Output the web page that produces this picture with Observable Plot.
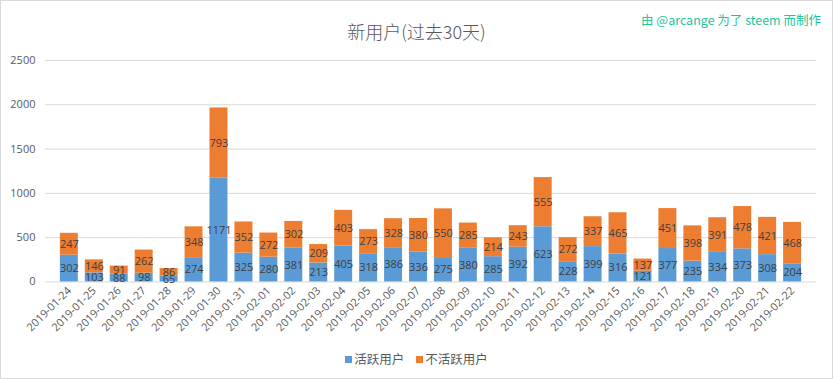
<!DOCTYPE html>
<html>
<head>
<meta charset="utf-8">
<script src="https://cdn.jsdelivr.net/npm/d3@7"></script>
<script src="https://cdn.jsdelivr.net/npm/@observablehq/plot@0.6"></script>
<style>
  html, body { margin: 0; padding: 0; background: #fff; }
  #wrap { position: relative; width: 833px; height: 379px; box-sizing: border-box; border: 1px solid #d9d9d9; overflow: hidden; font-family: "Open Sans", "Noto Sans CJK SC", sans-serif; }
  #title { position: absolute; left: 0; right: 0; top: 17px; text-align: center; font-family: "Noto Sans CJK SC", sans-serif; font-size: 18px; font-weight: 300; color: #595959; }
  #credit { position: absolute; left: 640px; top: 9px; font-family: "Noto Sans CJK SC", sans-serif; font-size: 12.5px; color: #22c59c; white-space: nowrap; }
  #chart { position: absolute; left: 0; top: 50px; }
  #legend { position: absolute; left: 0; right: 0; top: 348px; text-align: center; font-family: "Noto Sans CJK SC", sans-serif; font-size: 12.5px; color: #595959; }
  .sw { display: inline-block; width: 7px; height: 7px; margin-right: 2px; vertical-align: 1px; }
  .item { margin: 0 6px; }
</style>
</head>
<body>
<div id="wrap">
  <div id="title">新用户(过去30天)</div>
  <div id="credit">由 @arcange 为了 steem 而制作</div>
  <div id="chart"></div>
  <div id="legend"></div>
</div>
<script>
const dates = ["2019-01-24","2019-01-25","2019-01-26","2019-01-27","2019-01-28","2019-01-29","2019-01-30","2019-01-31",
  "2019-02-01","2019-02-02","2019-02-03","2019-02-04","2019-02-05","2019-02-06","2019-02-07","2019-02-08","2019-02-09",
  "2019-02-10","2019-02-11","2019-02-12","2019-02-13","2019-02-14","2019-02-15","2019-02-16","2019-02-17","2019-02-18",
  "2019-02-19","2019-02-20","2019-02-21","2019-02-22"];
const active = [302,103,88,98,65,274,1171,325,280,381,213,405,318,386,336,275,380,285,392,623,228,399,316,121,377,235,334,373,308,204];
const inactive = [247,146,91,262,86,348,793,352,272,302,209,403,273,328,380,550,285,214,243,555,272,337,465,137,451,398,391,478,421,468];
const seriesNames = ["活跃用户", "不活跃用户"];
const seriesColors = ["#5b9bd5", "#ed7d31"];
const yTicks = [0, 500, 1000, 1500, 2000, 2500];

const rows = [];
dates.forEach((d, i) => {
  rows.push({date: d, series: seriesNames[0], value: active[i]});
  rows.push({date: d, series: seriesNames[1], value: inactive[i]});
});

const chart = Plot.plot({
  width: 833,
  height: 290,
  marginTop: 9,
  marginBottom: 59,
  marginLeft: 44,
  marginRight: 16,
  style: {fontFamily: "'Open Sans', sans-serif", fontSize: "11px", color: "#595959", background: "transparent"},
  x: {domain: dates, padding: 0.3, label: null},
  y: {domain: [0, 2500], label: null},
  color: {domain: seriesNames, range: seriesColors},
  marks: [
    Plot.gridY(yTicks, {stroke: "#d9d9d9", strokeOpacity: 1}),
    Plot.axisY(yTicks, {tickSize: 0, tickPadding: 10, label: null, fill: "#595959", fontSize: 11, tickFormat: d => String(d)}),
    Plot.axisX({tickSize: 0, tickPadding: 7, tickRotate: -45, label: null, fill: "#595959", fontSize: 11}),
    Plot.barY(rows, Plot.stackY({x: "date", y: "value", z: "series", fill: "series", order: seriesNames})),
    Plot.text(rows, Plot.stackY({x: "date", y: "value", z: "series", text: d => String(d.value), order: seriesNames, fill: "#404040", fontSize: 11}))
  ]
});
document.getElementById("chart").appendChild(chart);

const legend = document.getElementById("legend");
seriesNames.forEach((n, i) => {
  const s = document.createElement("span");
  s.className = "item";
  s.innerHTML = `<span class="sw" style="background:${seriesColors[i]}"></span>${n}`;
  legend.appendChild(s);
});
</script>
</body>
</html>
